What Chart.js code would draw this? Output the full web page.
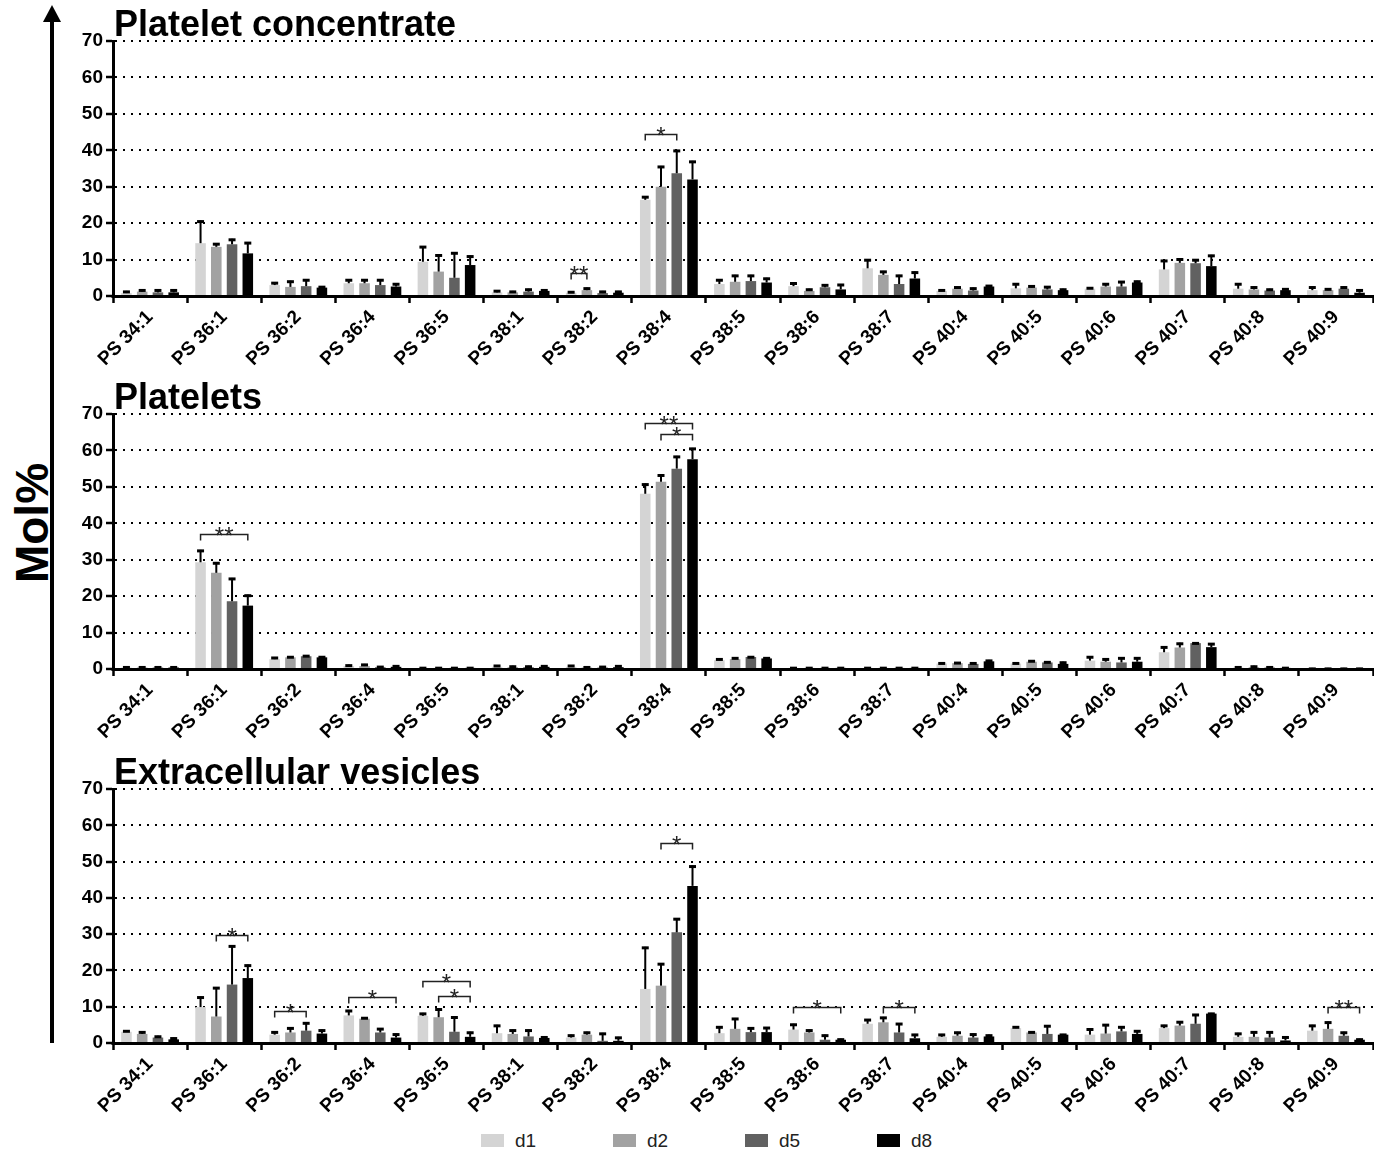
<!DOCTYPE html>
<html><head><meta charset="utf-8">
<script src="https://cdn.jsdelivr.net/npm/chart.js@4"></script>
<style>
html,body{margin:0;padding:0;background:#fff;}
body{width:1374px;height:1151px;position:relative;overflow:hidden;font-family:"Liberation Sans",Arial,sans-serif;}
canvas.panel{position:absolute;left:0;}
#ylab{position:absolute;left:32px;top:523px;transform:translate(-50%,-50%) rotate(-90deg);font-weight:bold;font-size:46px;white-space:nowrap;color:#000;}
#arrow{position:absolute;left:0;top:0;}
#legend{position:absolute;left:0;top:1130px;width:1374px;height:21px;}
.li{position:absolute;top:0;height:21px;display:flex;align-items:center;font-size:19px;color:#222;}
.sw{width:23px;height:13px;margin-right:11px;}
</style></head>
<body>
<svg id="arrow" width="80" height="1151"><line x1="52" y1="1043" x2="52" y2="18" stroke="#000" stroke-width="4"/><polygon points="52,5 43,22 61,22" fill="#000"/></svg>
<div id="ylab">Mol%</div>
<canvas class="panel" id="c1" width="1374" height="372" style="top:0px"></canvas>
<canvas class="panel" id="c2" width="1374" height="372" style="top:373px"></canvas>
<canvas class="panel" id="c3" width="1374" height="372" style="top:748px"></canvas>
<div id="legend"></div>
<script>
const categories = ['PS 34:1','PS 36:1','PS 36:2','PS 36:4','PS 36:5','PS 38:1','PS 38:2','PS 38:4','PS 38:5','PS 38:6','PS 38:7','PS 40:4','PS 40:5','PS 40:6','PS 40:7','PS 40:8','PS 40:9'];
const seriesNames = ['d1','d2','d5','d8'];
const seriesColors = ['#d4d4d4','#a2a2a2','#616161','#000000'];
const yTicks = [0,10,20,30,40,50,60,70];
const panelTitles = ['Platelet concentrate','Platelets','Extracellular vesicles'];

// Platelet concentrate: means and SD
const pc_d1 = [0.8,14.5,3.0,3.5,9.4,1.0,0.9,26.4,3.3,2.7,7.6,1.4,2.1,2.0,7.3,2.0,1.6];
const pc_d1_sd = [0.6,6.2,0.8,1.1,4.3,0.6,0.4,1.0,1.3,1.0,2.5,0.4,1.4,0.4,2.6,1.5,1.0];
const pc_d2 = [1.2,13.5,2.5,3.5,6.7,1.0,1.6,30.0,3.9,1.4,5.8,2.0,2.3,2.6,9.1,1.8,1.6];
const pc_d2_sd = [0.6,1.0,1.7,1.1,4.7,0.4,0.7,5.7,1.9,0.6,1.1,0.6,0.6,0.9,1.2,0.8,0.5];
const pc_d5 = [1.0,14.2,2.7,3.0,5.0,1.2,0.8,33.7,4.1,2.4,3.3,1.5,1.8,2.6,9.0,1.5,2.0];
const pc_d5_sd = [0.8,1.5,1.9,1.6,7.0,0.8,0.6,6.4,1.7,0.8,2.5,0.8,0.9,1.5,1.1,0.5,0.6];
const pc_d8 = [1.0,11.7,2.3,2.6,8.5,1.4,0.9,32.0,3.7,1.8,4.8,2.6,1.6,3.7,8.2,1.6,0.9];
const pc_d8_sd = [0.8,3.1,0.4,0.9,2.6,0.4,0.5,5.1,1.3,1.5,1.9,0.4,0.4,0.5,3.1,0.5,0.9];

// Platelets
const pl_d1 = [0.4,29.3,2.7,0.8,0.3,0.6,0.6,48.1,2.4,0.3,0.3,1.5,1.5,2.3,4.6,0.4,0.2];
const pl_d1_sd = [0.3,3.4,0.6,0.4,0.2,0.5,0.5,2.8,0.5,0.2,0.2,0.3,0.3,1.2,1.6,0.3,0.1];
const pl_d2 = [0.4,26.4,3.2,0.8,0.3,0.5,0.4,51.4,2.7,0.3,0.3,1.6,2.0,2.0,5.9,0.5,0.2];
const pl_d2_sd = [0.3,2.9,0.3,0.6,0.2,0.4,0.3,2.0,0.5,0.2,0.2,0.3,0.4,0.9,1.3,0.4,0.1];
const pl_d5 = [0.4,18.6,3.5,0.5,0.3,0.5,0.4,55.0,3.3,0.3,0.3,1.4,1.8,1.8,7.1,0.4,0.2];
const pl_d5_sd = [0.3,6.4,0.3,0.3,0.2,0.4,0.4,3.5,0.2,0.2,0.2,0.4,0.3,1.4,0.2,0.3,0.1];
const pl_d8 = [0.4,17.4,3.2,0.6,0.3,0.6,0.5,57.6,2.9,0.3,0.3,2.1,1.4,2.0,6.0,0.3,0.2];
const pl_d8_sd = [0.3,3.0,0.3,0.4,0.2,0.4,0.5,3.1,0.3,0.2,0.2,0.4,0.6,1.2,1.1,0.2,0.1];

// Extracellular vesicles
const ev_d1 = [3.1,9.9,2.3,7.6,7.5,2.7,1.5,14.9,2.7,3.7,5.3,1.7,4.1,2.3,4.1,1.7,3.4];
const ev_d1_sd = [0.4,2.9,0.9,1.5,0.8,2.3,0.8,11.6,1.9,1.6,1.3,0.8,0.5,1.7,0.9,1.1,1.6];
const ev_d2 = [2.5,7.3,2.9,6.7,7.1,2.5,2.3,15.8,3.9,2.9,5.7,2.0,2.9,2.6,4.8,1.7,3.9];
const ev_d2_sd = [0.7,8.1,1.4,0.4,2.4,1.2,0.8,6.2,3.0,0.8,1.5,1.1,0.3,2.6,1.2,1.5,2.0];
const ev_d5 = [1.5,16.1,3.4,2.9,3.1,1.8,0.6,30.5,3.0,0.9,2.9,1.5,2.5,3.2,5.3,1.5,2.0];
const ev_d5_sd = [0.5,10.8,2.3,1.2,4.2,1.9,2.2,3.9,1.3,1.4,2.6,1.1,2.4,1.4,2.7,1.7,1.1];
const ev_d8 = [1.0,17.9,2.6,1.5,1.7,1.4,0.6,43.3,3.0,0.9,1.3,1.8,2.3,2.5,8.1,0.7,0.9];
const ev_d8_sd = [0.5,3.7,1.1,1.1,1.4,0.4,1.1,5.6,1.4,0.3,1.2,0.5,0.2,1.0,0.2,1.1,0.3];

// Significance brackets: [category index, from series, to series, height (Mol%), label]
const pc_sig = [[6,0,1,6.4,'**'],[7,0,2,44.6,'*']];
const pl_sig = [[1,0,3,37.1,'**'],[7,0,3,67.5,'**'],[7,1,3,64.6,'*']];
const ev_sig = [[1,1,3,29.8,'*'],[2,0,2,8.7,'*'],[3,0,3,12.8,'*'],[4,0,3,17.2,'*'],[4,1,3,13.0,'*'],[7,1,3,55.1,'*'],[9,0,3,9.9,'*'],[10,1,3,9.9,'*'],[16,1,3,9.9,'**']];

const FONT = '"Liberation Sans", Arial, sans-serif';

const titlePlugin = {
  id: 'ptitle',
  afterDraw(chart, args, opts) {
    const {ctx, chartArea} = chart;
    ctx.save();
    ctx.font = 'bold 36px ' + FONT;
    ctx.fillStyle = '#000';
    ctx.textAlign = 'left';
    ctx.textBaseline = 'alphabetic';
    ctx.fillText(opts.text, chartArea.left + 1, chartArea.top - 5);
    ctx.restore();
  }
};

const errPlugin = {
  id: 'errbars',
  afterDatasetsDraw(chart, args, opts) {
    const {ctx, chartArea} = chart;
    const ys = chart.scales.y;
    ctx.save();
    chart.data.datasets.forEach((ds, i) => {
      const meta = chart.getDatasetMeta(i);
      meta.data.forEach((bar, j) => {
        const top = ys.getPixelForValue(ds.data[j] + ds.sd[j]);
        ctx.strokeStyle = '#000';
        ctx.lineWidth = 2;
        ctx.beginPath(); ctx.moveTo(bar.x, bar.y); ctx.lineTo(bar.x, top); ctx.stroke();
        ctx.lineWidth = 3;
        ctx.beginPath(); ctx.moveTo(bar.x - 3.5, top + 1); ctx.lineTo(bar.x + 3.5, top + 1); ctx.stroke();
      });
    });
    // x axis line over bar bottoms
    ctx.strokeStyle = '#000';
    ctx.lineWidth = 3;
    ctx.beginPath(); ctx.moveTo(chartArea.left - 1.5, chartArea.bottom + 0.5); ctx.lineTo(chartArea.right, chartArea.bottom + 0.5); ctx.stroke();
    // brackets
    (opts.brackets || []).forEach(b => {
      const [cat, s0, s1, val, label] = b;
      const x0 = chart.getDatasetMeta(s0).data[cat].x;
      const x1 = chart.getDatasetMeta(s1).data[cat].x;
      const yy = Math.round(ys.getPixelForValue(val)) + 0.5;
      ctx.strokeStyle = '#222';
      ctx.lineWidth = 1.5;
      ctx.beginPath();
      ctx.moveTo(x0, yy + 6); ctx.lineTo(x0, yy); ctx.lineTo(x1, yy); ctx.lineTo(x1, yy + 6);
      ctx.stroke();
      ctx.font = '24px ' + FONT;
      ctx.fillStyle = '#222';
      ctx.textAlign = 'center';
      ctx.textBaseline = 'alphabetic';
      ctx.fillText(label, (x0 + x1) / 2, yy + 9);
    });
    ctx.restore();
  }
};

function makeChart(id, title, vals, sds, sig, plotH) {
  const xH = 372 - 41 - plotH;
  return new Chart(document.getElementById(id), {
    type: 'bar',
    data: {
      labels: categories,
      datasets: seriesNames.map((n, i) => ({
        label: n, data: vals[i], sd: sds[i],
        backgroundColor: seriesColors[i], borderWidth: 0,
        categoryPercentage: 0.85, barPercentage: 0.67
      }))
    },
    plugins: [titlePlugin, errPlugin],
    options: {
      responsive: false, animation: false, devicePixelRatio: 1,
      layout: {padding: {top: 41, right: 1, left: 0, bottom: 0}},
      plugins: {
        legend: {display: false}, tooltip: {enabled: false},
        ptitle: {text: title}, errbars: {brackets: sig}
      },
      scales: {
        x: {
          grid: {drawOnChartArea: false, drawTicks: true, tickLength: 7, tickWidth: 2.5, tickColor: '#000', color: '#000'},
          border: {display: true, color: '#000', width: 3},
          ticks: {color: '#000', font: {family: FONT, size: 19, weight: 'bold'}, minRotation: 45, maxRotation: 45, autoSkip: false, padding: 3},
          afterFit: s => { s.height = xH; }
        },
        y: {
          min: yTicks[0], max: yTicks[yTicks.length - 1],
          afterBuildTicks: s => { s.ticks = yTicks.map(v => ({value: v})); },
          ticks: {color: '#000', font: {family: FONT, size: 19, weight: 'bold'}, padding: 3},
          grid: {color: '#000', lineWidth: 2, tickLength: 7, tickWidth: 2.5, tickColor: '#000', tickBorderDash: []},
          border: {display: true, color: '#000', width: 3, dash: [2, 6]},
          afterFit: s => { s.width = 113; }
        }
      }
    }
  });
}

makeChart('c1', panelTitles[0], [pc_d1, pc_d2, pc_d5, pc_d8], [pc_d1_sd, pc_d2_sd, pc_d5_sd, pc_d8_sd], pc_sig, 255);
makeChart('c2', panelTitles[1], [pl_d1, pl_d2, pl_d5, pl_d8], [pl_d1_sd, pl_d2_sd, pl_d5_sd, pl_d8_sd], pl_sig, 255);
makeChart('c3', panelTitles[2], [ev_d1, ev_d2, ev_d5, ev_d8], [ev_d1_sd, ev_d2_sd, ev_d5_sd, ev_d8_sd], ev_sig, 254);

const leg = document.getElementById('legend');
seriesNames.forEach((n, i) => {
  const d = document.createElement('div');
  d.className = 'li';
  d.style.left = (481 + i * 132) + 'px';
  d.innerHTML = '<span class="sw" style="background:' + seriesColors[i] + '"></span><span>' + n + '</span>';
  leg.appendChild(d);
});
</script>
</body></html>
